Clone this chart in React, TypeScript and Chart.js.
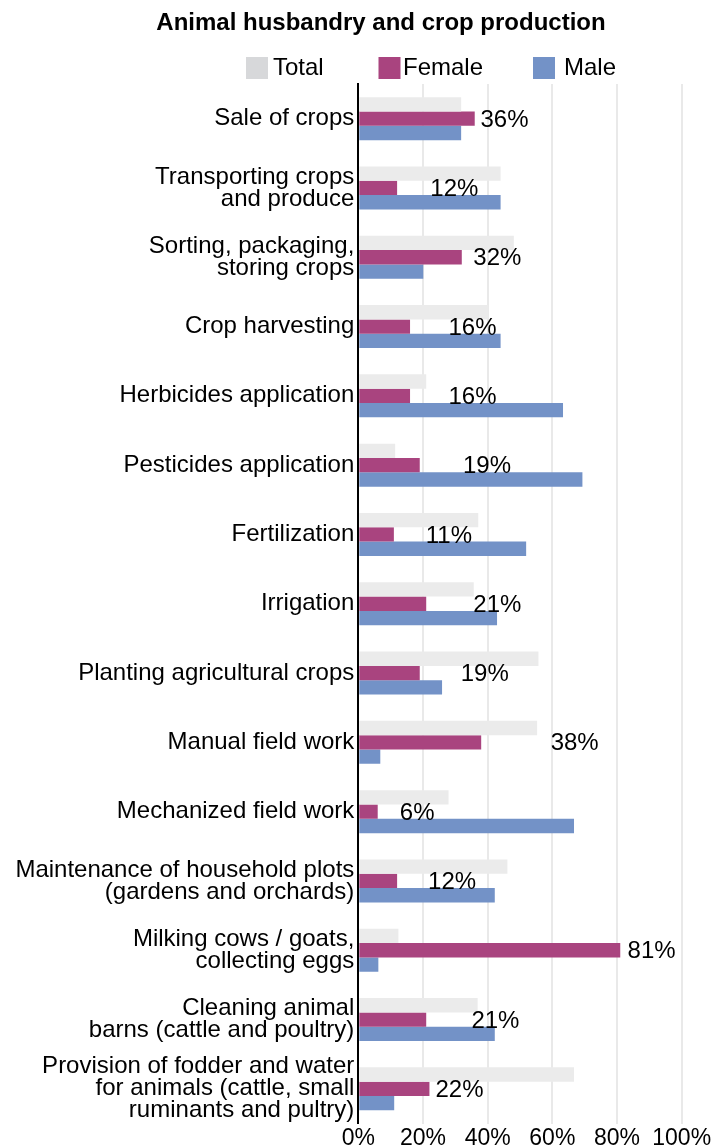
import React, { useEffect, useRef } from 'react';
import { Chart, registerables } from 'chart.js';

Chart.register(...registerables);

const FONT = '"Liberation Sans", Arial, Helvetica, sans-serif';

const categories: (string | string[])[] = [
  'Sale of crops',
  ['Transporting crops', 'and produce'],
  ['Sorting, packaging,', 'storing crops'],
  'Crop harvesting',
  'Herbicides application',
  'Pesticides application',
  'Fertilization',
  'Irrigation',
  'Planting agricultural crops',
  'Manual field work',
  'Mechanized field work',
  ['Maintenance of household plots', '(gardens and orchards)'],
  ['Milking cows / goats,', 'collecting eggs'],
  ['Cleaning animal', 'barns (cattle and poultry)'],
  ['Provision of fodder and water', 'for animals (cattle, small', 'ruminants and pultry)'],
];

const totalValues = [31.8, 44.0, 48.1, 40.2, 21.0, 11.4, 37.1, 35.7, 55.7, 55.3, 27.9, 46.1, 12.4, 36.9, 66.7];
const femaleValues = [36, 12, 32, 16, 16, 19, 11, 21, 19, 38, 6, 12, 81, 21, 22];
const maleValues = [31.8, 44.0, 20.1, 44.0, 63.3, 69.3, 51.9, 42.9, 25.9, 6.8, 66.7, 42.2, 6.2, 42.2, 11.1];
// where (in % units on the value axis) each female value label sits in the original
const femaleLabelAt = [45.2, 29.7, 43.0, 35.3, 35.3, 39.8, 28.0, 43.0, 39.1, 66.9, 18.2, 29.0, 90.7, 42.4, 31.3];

const xTickValues = [0, 20, 40, 60, 80, 100];
const seriesNames = ['Total', 'Female', 'Male'];
const title = 'Animal husbandry and crop production';

const barColors = ['#ebebeb', '#a9447f', '#7392c7'];
const legendSwatchColors = ['#d7d8da', '#a9447f', '#7392c7'];

const headerPlugin = {
  id: 'header',
  afterDraw(chart: any) {
    const ctx = chart.ctx;
    ctx.save();
    // title
    ctx.font = `bold 24px ${FONT}`;
    ctx.textBaseline = 'middle';
    ctx.textAlign = 'center';
    ctx.fillStyle = '#000';
    ctx.fillText(title, 381, 23.5);
    // legend
    const boxX = [246, 378.5, 533];
    const textX = [273, 403, 564];
    const cy = 68;
    ctx.font = `24px ${FONT}`;
    ctx.textAlign = 'left';
    seriesNames.forEach((name, i) => {
      ctx.fillStyle = legendSwatchColors[i];
      ctx.fillRect(boxX[i], cy - 11, 22, 22);
      ctx.fillStyle = '#000';
      ctx.fillText(name, textX[i], cy);
    });
    ctx.restore();
  },
};

const femaleLabelPlugin = {
  id: 'femaleLabels',
  afterDatasetsDraw(chart: any) {
    const ctx = chart.ctx;
    const meta = chart.getDatasetMeta(1);
    const xs = chart.scales.x;
    ctx.save();
    ctx.font = `24px ${FONT}`;
    ctx.textBaseline = 'middle';
    ctx.textAlign = 'center';
    ctx.fillStyle = '#000';
    meta.data.forEach((bar: any, i: number) => {
      ctx.fillText(`${femaleValues[i]}%`, xs.getPixelForValue(femaleLabelAt[i]), bar.y + 1.5);
    });
    ctx.restore();
  },
};

export default function App() {
  const canvasRef = useRef<HTMLCanvasElement | null>(null);

  useEffect(() => {
    document.body.style.margin = '0';
    const canvas = canvasRef.current;
    if (!canvas) return;
    const chart = new Chart(canvas, {
      type: 'bar',
      data: {
        labels: categories,
        datasets: [
          { label: seriesNames[0], data: totalValues, backgroundColor: barColors[0] },
          { label: seriesNames[1], data: femaleValues, backgroundColor: barColors[1] },
          { label: seriesNames[2], data: maleValues, backgroundColor: barColors[2] },
        ],
      },
      options: {
        indexAxis: 'y',
        responsive: false,
        animation: false,
        devicePixelRatio: 1,
        layout: { padding: { left: 0, right: 30.3, top: 84, bottom: 0 } },
        datasets: { bar: { categoryPercentage: 0.62, barPercentage: 1 } },
        plugins: {
          legend: { display: false },
          tooltip: { enabled: false },
          title: { display: false },
        },
        scales: {
          x: {
            type: 'linear',
            position: 'bottom',
            min: 0,
            max: 100,
            afterBuildTicks: (s: any) => {
              s.ticks = xTickValues.map((v) => ({ value: v }));
            },
            afterFit: (s: any) => {
              s.height = 23.5;
              s.paddingLeft = 0;
              s.paddingRight = 0;
            },
            grid: { color: '#e9e9e9', lineWidth: 2, drawTicks: false },
            border: { display: false },
            ticks: {
              callback: (v: any) => `${v}%`,
              color: '#000',
              font: { family: FONT, size: 23, lineHeight: 1 },
              padding: 4,
              maxRotation: 0,
            },
          },
          y: {
            type: 'category',
            grid: { display: false, drawTicks: false },
            border: { display: true, color: '#000', width: 2 },
            ticks: {
              autoSkip: false,
              padding: 4,
              color: '#000',
              font: { family: FONT, size: 24, lineHeight: 22 / 24 },
            },
            afterFit: (s: any) => {
              s.width = 358.3;
              s.paddingTop = 0;
              s.paddingBottom = 0;
            },
          },
        },
      } as any,
      plugins: [headerPlugin, femaleLabelPlugin],
    });
    return () => chart.destroy();
  }, []);

  return (
    <canvas
      ref={canvasRef}
      width={712}
      height={1147}
      style={{ display: 'block', width: 712, height: 1147 }}
    />
  );
}
